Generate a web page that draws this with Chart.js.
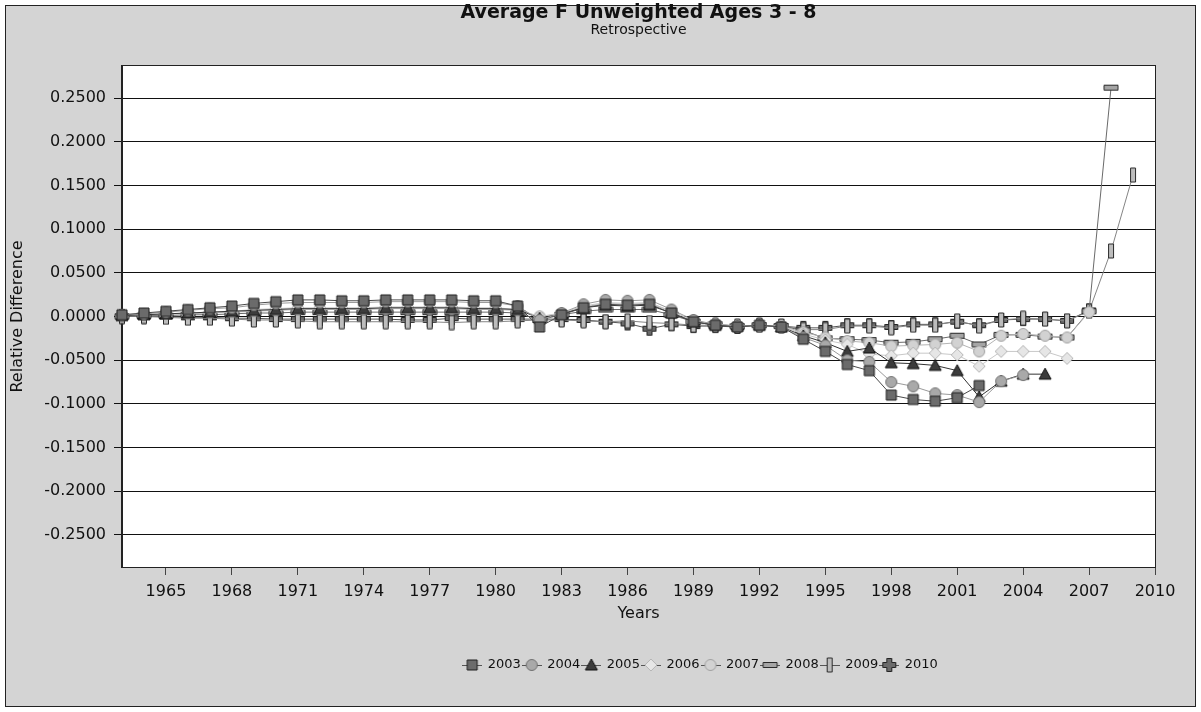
<!DOCTYPE html>
<html>
<head>
<meta charset="utf-8">
<script src="https://cdn.jsdelivr.net/npm/chart.js@4.4.0/dist/chart.umd.min.js"></script>
<style>
  html, body { margin: 0; padding: 0; background: #fff; }
  canvas { display: block; }
</style>
</head>
<body>
<canvas id="retroChart" width="1201" height="712"></canvas>
<script>
const years = [
  1963, 1964, 1965, 1966, 1967, 1968, 1969, 1970, 1971, 1972,
  1973, 1974, 1975, 1976, 1977, 1978, 1979, 1980, 1981, 1982,
  1983, 1984, 1985, 1986, 1987, 1988, 1989, 1990, 1991, 1992,
  1993, 1994, 1995, 1996, 1997, 1998, 1999, 2000, 2001, 2002,
  2003, 2004, 2005, 2006, 2007, 2008, 2009
];
const xTicks = [1965, 1968, 1971, 1974, 1977, 1980, 1983, 1986, 1989, 1992, 1995, 1998, 2001, 2004, 2007, 2010];
const yTicks = [-0.25, -0.2, -0.15, -0.1, -0.05, 0, 0.05, 0.1, 0.15, 0.2, 0.25];
const peels = ['2003', '2004', '2005', '2006', '2007', '2008', '2009', '2010'];

const r2003 = [
  0.002, 0.004, 0.006, 0.008, 0.010, 0.012, 0.015, 0.017, 0.019, 0.019,
  0.018, 0.018, 0.019, 0.019, 0.019, 0.019, 0.018, 0.018, 0.012, -0.012,
  0.002, 0.010, 0.014, 0.013, 0.014, 0.004, -0.006, -0.010, -0.012, -0.010,
  -0.012, -0.026, -0.040, -0.055, -0.062, -0.090, -0.095, -0.097, -0.093, -0.079
];
const r2004 = [
  0.002, 0.003, 0.005, 0.007, 0.009, 0.010, 0.013, 0.015, 0.016, 0.016,
  0.016, 0.016, 0.017, 0.017, 0.017, 0.017, 0.016, 0.016, 0.012, -0.004,
  0.004, 0.014, 0.019, 0.018, 0.019, 0.008, -0.004, -0.009, -0.011, -0.010,
  -0.012, -0.024, -0.033, -0.050, -0.052, -0.075, -0.080, -0.088, -0.090, -0.098,
  -0.074, -0.067
];
const r2005 = [
  0.001, 0.002, 0.003, 0.004, 0.005, 0.006, 0.007, 0.008, 0.009, 0.009,
  0.009, 0.009, 0.010, 0.010, 0.010, 0.010, 0.009, 0.009, 0.008, -0.002,
  0.003, 0.010, 0.013, 0.012, 0.013, 0.004, -0.006, -0.010, -0.011, -0.010,
  -0.012, -0.022, -0.030, -0.040, -0.036, -0.053, -0.054, -0.056, -0.062, -0.092,
  -0.074, -0.066, -0.066
];
const r2006 = [
  0.001, 0.002, 0.003, 0.004, 0.005, 0.006, 0.008, 0.009, 0.010, 0.010,
  0.010, 0.010, 0.011, 0.011, 0.011, 0.011, 0.010, 0.010, 0.008, 0.000,
  0.004, 0.012, 0.016, 0.015, 0.016, 0.006, -0.005, -0.009, -0.011, -0.010,
  -0.011, -0.020, -0.027, -0.032, -0.043, -0.045, -0.042, -0.042, -0.044, -0.057,
  -0.040, -0.040, -0.040, -0.048
];
const r2007 = [
  0.001, 0.002, 0.003, 0.003, 0.004, 0.005, 0.006, 0.007, 0.008, 0.008,
  0.008, 0.008, 0.009, 0.009, 0.009, 0.009, 0.008, 0.008, 0.007, 0.000,
  0.003, 0.011, 0.015, 0.014, 0.015, 0.006, -0.005, -0.009, -0.011, -0.010,
  -0.011, -0.018, -0.024, -0.028, -0.030, -0.034, -0.033, -0.032, -0.030, -0.040,
  -0.022, -0.020, -0.022, -0.024, 0.005
];
const r2008 = [
  0.000, 0.001, 0.001, 0.002, 0.002, 0.003, 0.004, 0.004, 0.005, 0.005,
  0.005, 0.005, 0.005, 0.005, 0.005, 0.005, 0.005, 0.005, 0.004, -0.004,
  0.002, 0.006, 0.008, 0.008, 0.008, 0.002, -0.006, -0.009, -0.011, -0.010,
  -0.011, -0.016, -0.025, -0.026, -0.027, -0.030, -0.029, -0.026, -0.022, -0.032,
  -0.021, -0.021, -0.023, -0.024, 0.006, 0.262
];
const r2009 = [
  0.000, 0.000, -0.001, -0.002, -0.002, -0.003, -0.004, -0.004, -0.005, -0.006,
  -0.006, -0.006, -0.006, -0.006, -0.006, -0.007, -0.006, -0.006, -0.005, -0.004,
  -0.004, -0.005, -0.006, -0.005, -0.007, -0.008, -0.010, -0.010, -0.011, -0.010,
  -0.011, -0.015, -0.015, -0.011, -0.011, -0.013, -0.010, -0.010, -0.005, -0.011,
  -0.004, -0.002, -0.003, -0.005, 0.006, 0.075, 0.162
];
const r2010 = [
  0.000, 0.000, 0.000, -0.001, -0.001, -0.002, -0.002, -0.003, -0.003, -0.003,
  -0.003, -0.003, -0.003, -0.004, -0.004, -0.002, -0.003, -0.003, -0.003, -0.003,
  -0.003, -0.004, -0.006, -0.008, -0.014, -0.009, -0.011, -0.011, -0.012, -0.010,
  -0.011, -0.013, -0.013, -0.010, -0.010, -0.012, -0.009, -0.009, -0.006, -0.010,
  -0.004, -0.003, -0.003, -0.005, 0.007
];
const seriesValues = [r2003, r2004, r2005, r2006, r2007, r2008, r2009, r2010];

const FONT = "'DejaVu Sans', sans-serif";

const seriesStyle = [
  { marker: 'square', fill: '#6b6b6b', stroke: '#1e1e1e', line: '#4a4a4a' },
  { marker: 'circle', fill: '#a9a9a9', stroke: '#707070', line: '#9a9a9a' },
  { marker: 'triangle', fill: '#3c3c3c', stroke: '#111111', line: '#333333' },
  { marker: 'diamond', fill: '#e6e6e6', stroke: '#b5b5b5', line: '#c8c8c8' },
  { marker: 'circle', fill: '#d2d2d2', stroke: '#a0a0a0', line: '#b4b4b4' },
  { marker: 'dash', fill: '#a5a5a5', stroke: '#2a2a2a', line: '#6a6a6a' },
  { marker: 'bar', fill: '#bdbdbd', stroke: '#2a2a2a', line: '#858585' },
  { marker: 'plus', fill: '#6a6a6a', stroke: '#222222', line: '#555555' }
];

function drawShape(ctx, kind, cx, cy) {
  ctx.beginPath();
  if (kind === 'square') {
    ctx.rect(cx - 5, cy - 5, 10, 10);
  } else if (kind === 'circle') {
    ctx.arc(cx, cy, 5.5, 0, Math.PI * 2);
  } else if (kind === 'triangle') {
    ctx.moveTo(cx, cy - 6);
    ctx.lineTo(cx + 6, cy + 5);
    ctx.lineTo(cx - 6, cy + 5);
    ctx.closePath();
  } else if (kind === 'diamond') {
    ctx.moveTo(cx, cy - 6);
    ctx.lineTo(cx + 6, cy);
    ctx.lineTo(cx, cy + 6);
    ctx.lineTo(cx - 6, cy);
    ctx.closePath();
  } else if (kind === 'dash') {
    ctx.rect(cx - 7, cy - 2.5, 14, 5);
  } else if (kind === 'bar') {
    ctx.rect(cx - 2.5, cy - 7, 5, 14);
  } else if (kind === 'plus') {
    const a = 2.5, b = 6.5;
    ctx.moveTo(cx - a, cy - b);
    ctx.lineTo(cx + a, cy - b);
    ctx.lineTo(cx + a, cy - a);
    ctx.lineTo(cx + b, cy - a);
    ctx.lineTo(cx + b, cy + a);
    ctx.lineTo(cx + a, cy + a);
    ctx.lineTo(cx + a, cy + b);
    ctx.lineTo(cx - a, cy + b);
    ctx.lineTo(cx - a, cy + a);
    ctx.lineTo(cx - b, cy + a);
    ctx.lineTo(cx - b, cy - a);
    ctx.lineTo(cx - a, cy - a);
    ctx.closePath();
  }
  ctx.fill();
  ctx.stroke();
}

function makeMarker(style) {
  const c = document.createElement('canvas');
  c.width = 16;
  c.height = 16;
  const ctx = c.getContext('2d');
  ctx.fillStyle = style.fill;
  ctx.strokeStyle = style.stroke;
  ctx.lineWidth = 1;
  drawShape(ctx, style.marker, 8, 8);
  return c;
}

function makeLegendIcon(style) {
  const c = document.createElement('canvas');
  c.width = 20;
  c.height = 16;
  const ctx = c.getContext('2d');
  ctx.strokeStyle = '#555';
  ctx.lineWidth = 1;
  ctx.beginPath();
  ctx.moveTo(0, 8.5);
  ctx.lineTo(20, 8.5);
  ctx.stroke();
  ctx.fillStyle = style.fill;
  ctx.strokeStyle = style.stroke;
  drawShape(ctx, style.marker, 10, 8);
  return c;
}

const markers = seriesStyle.map(makeMarker);
const legendIcons = seriesStyle.map(makeLegendIcon);

const datasets = peels.map((name, i) => ({
  label: name,
  data: seriesValues[i].map((v, j) => ({ x: years[j], y: v })),
  borderColor: seriesStyle[i].line,
  borderWidth: 1,
  pointStyle: markers[i],
  pointRadius: 5,
  pointHoverRadius: 5,
  tension: 0,
  fill: false,
  clip: false
}));

const framePlugin = {
  id: 'frame',
  beforeDraw(chart) {
    const { ctx, chartArea } = chart;
    ctx.save();
    ctx.fillStyle = '#d4d4d4';
    ctx.fillRect(5, 5, 1191, 702);
    ctx.strokeStyle = '#222';
    ctx.lineWidth = 1;
    ctx.strokeRect(5.5, 5.5, 1190, 701);
    ctx.fillStyle = '#ffffff';
    ctx.fillRect(chartArea.left, chartArea.top, chartArea.right - chartArea.left, chartArea.bottom - chartArea.top);
    ctx.restore();
  },
  beforeDatasetsDraw(chart) {
    const { ctx, chartArea } = chart;
    ctx.save();
    ctx.strokeStyle = '#222';
    ctx.lineWidth = 1;
    ctx.strokeRect(Math.round(chartArea.left) - 0.5, Math.round(chartArea.top) - 0.5,
      Math.round(chartArea.right - chartArea.left) + 1, Math.round(chartArea.bottom - chartArea.top) + 1);
    ctx.restore();
  },
  afterLayout(chart) {
    chart.legend.left += 62;
    chart.legend.right += 62;
  }
};

new Chart(document.getElementById('retroChart').getContext('2d'), {
  type: 'line',
  data: { datasets },
  plugins: [framePlugin],
  options: {
    responsive: false,
    animation: false,
    devicePixelRatio: 1,
    layout: { padding: { left: 6, right: 46, top: 0, bottom: 30.5 } },
    plugins: {
      title: {
        display: true,
        text: 'Average F Unweighted Ages 3 - 8',
        fullSize: false,
        color: '#111',
        font: { family: FONT, size: 19, weight: 'bold', lineHeight: 1 },
        padding: { top: 4, bottom: 0 }
      },
      subtitle: {
        display: true,
        text: 'Retrospective',
        fullSize: false,
        color: '#111',
        font: { family: FONT, size: 14, lineHeight: 1.1 },
        padding: { top: 0, bottom: 27.6 }
      },
      legend: {
        position: 'bottom',
        fullSize: false,
        labels: {
          usePointStyle: true,
          pointStyleWidth: 18,
          padding: 2,
          color: '#111',
          font: { family: FONT, size: 13 },
          generateLabels(chart) {
            const items = Chart.defaults.plugins.legend.labels.generateLabels(chart);
            items.forEach(it => { it.pointStyle = legendIcons[it.datasetIndex]; });
            return items;
          }
        }
      },
      tooltip: { enabled: false }
    },
    scales: {
      x: {
        type: 'linear',
        min: 1963,
        max: 2010,
        afterBuildTicks(scale) {
          scale.ticks = xTicks.map(v => ({ value: v }));
        },
        afterFit(scale) {
          scale.height = 89.5;
        },
        ticks: {
          autoSkip: false,
          maxRotation: 0,
          padding: 7,
          color: '#111',
          font: { family: FONT, size: 16 },
          callback: v => String(v)
        },
        grid: { drawOnChartArea: false, tickLength: 8, color: '#444' },
        border: { color: '#222' },
        title: {
          display: true,
          text: 'Years',
          color: '#111',
          font: { family: FONT, size: 16 },
          padding: { top: 0, bottom: 33 }
        }
      },
      y: {
        type: 'linear',
        min: -0.2868,
        max: 0.2868,
        afterBuildTicks(scale) {
          scale.ticks = yTicks.map(v => ({ value: v }));
        },
        afterFit(scale) {
          scale.width = 116;
        },
        ticks: {
          padding: 8,
          color: '#111',
          font: { family: FONT, size: 16 },
          callback: v => Number(v).toFixed(4)
        },
        grid: { color: '#111', tickLength: 8 },
        border: { color: '#222' },
        title: {
          display: true,
          text: 'Relative Difference',
          color: '#111',
          font: { family: FONT, size: 16 },
          padding: { top: 2, bottom: 0 }
        }
      }
    }
  }
});
</script>
</body>
</html>
